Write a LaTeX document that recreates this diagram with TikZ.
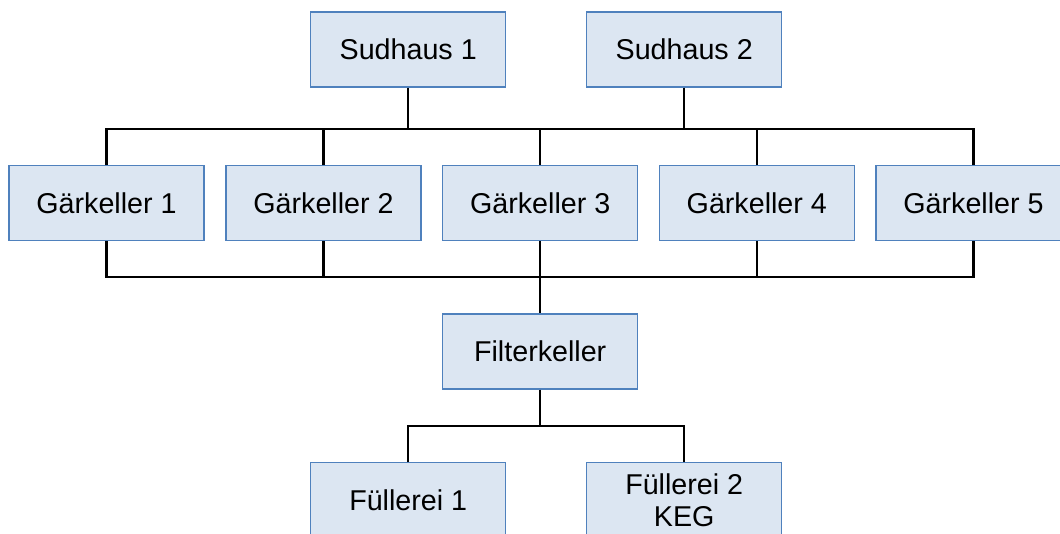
\documentclass[tikz,border=0pt]{standalone}
\usepackage{fontspec}
\setmainfont{Liberation Sans}
\begin{document}
\begin{tikzpicture}[x=0.75pt, y=-0.75pt,
  unit/.style={draw=boxedge, fill=boxfill, line width=0.8pt,
    minimum width=146.25pt, minimum height=56.25pt, inner sep=0pt,
    align=center, font=\fontsize{21.5}{24}\selectfont},
  pipe/.style={draw=black, line width=1.7pt, line join=miter}]
\definecolor{boxfill}{HTML}{DCE6F2}
\definecolor{boxedge}{HTML}{4F81BD}
\useasboundingbox (0,0) rectangle (1060,533);
\clip (0,0) rectangle (1060,533);
\fill[white] (0,0) rectangle (1060,533);

% brewhouses
\node[unit] (s1) at (408.2,49.5) {Sudhaus 1};
\node[unit] (s2) at (684.2,49.5) {Sudhaus 2};

% fermentation cellars
\node[unit] (g1) at (106.5,203) {Gärkeller 1};
\node[unit] (g2) at (323.5,203) {Gärkeller 2};
\node[unit] (g3) at (540.2,203) {Gärkeller 3};
\node[unit] (g4) at (756.8,203) {Gärkeller 4};
\node[unit] (g5) at (973.5,203) {Gärkeller 5};

% filter cellar and filling lines
\node[unit] (fk) at (540.2,351.5) {Filterkeller};
\node[unit] (f1) at (408.2,500.2) {Füllerei 1};
\node[unit] (f2) at (684.2,500.2) {Füllerei 2\\KEG};

% bus levels
\coordinate (topbus) at (0,129);
\coordinate (botbus) at (0,277);
\coordinate (fbus) at (0,426);

% upper manifold
\draw[pipe] (g1.north) |- (g5.north |- topbus) -- (g5.north);
\draw[pipe] (s1.south) -- (s1.south |- topbus);
\draw[pipe] (s2.south) -- (s2.south |- topbus);
\draw[pipe] (g2.north) -- (g2.north |- topbus);
\draw[pipe] (g3.north) -- (g3.north |- topbus);
\draw[pipe] (g4.north) -- (g4.north |- topbus);

% lower manifold
\draw[pipe] (g1.south) |- (g5.south |- botbus) -- (g5.south);
\draw[pipe] (g2.south) -- (g2.south |- botbus);
\draw[pipe] (g3.south) -- (fk.north);
\draw[pipe] (g4.south) -- (g4.south |- botbus);

% filling branch
\draw[pipe] (fk.south) -- (fk.south |- fbus);
\draw[pipe] (f1.north) |- (f2.north |- fbus) -- (f2.north);
\end{tikzpicture}
\end{document}
